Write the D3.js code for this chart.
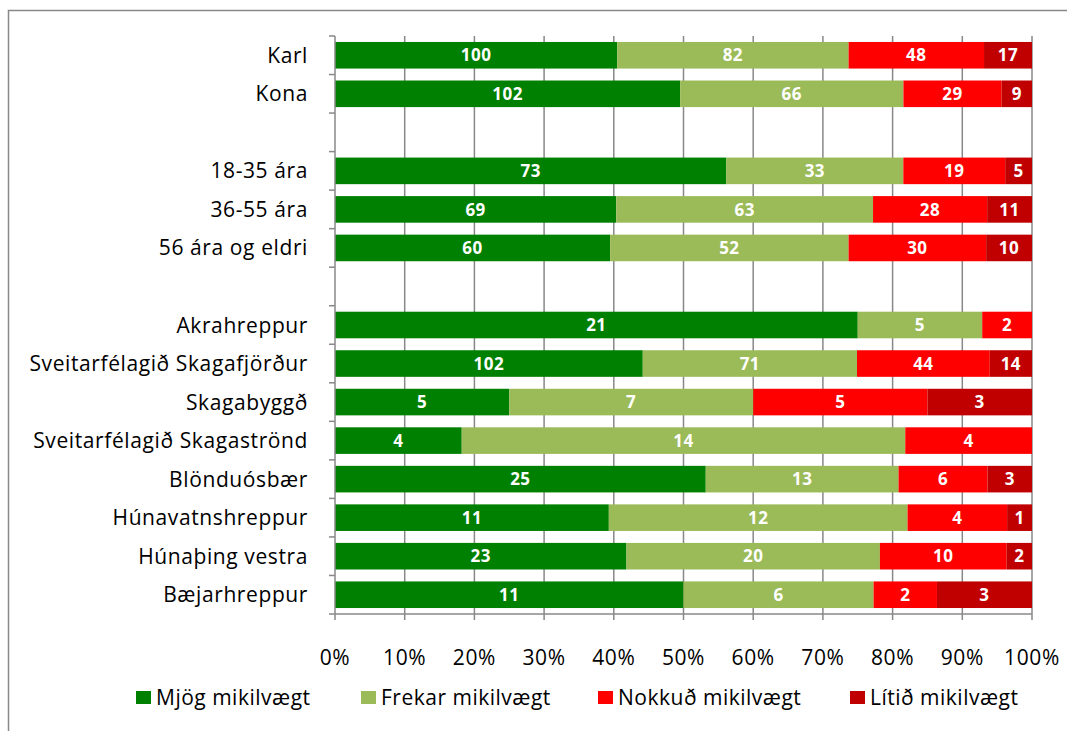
<!DOCTYPE html>
<html><head><meta charset="utf-8">
<script src="https://cdn.jsdelivr.net/npm/d3@7"></script>
<style>body{margin:0;background:#fff}svg{display:block}</style>
</head><body><div id="chart"></div>
<script>
const categories = ["Karl","Kona","","18-35 ára","36-55 ára","56 ára og eldri"," ","Akrahreppur","Sveitarfélagið Skagafjörður","Skagabyggð","Sveitarfélagið Skagaströnd","Blönduósbær","Húnavatnshreppur","Húnaþing vestra","Bæjarhreppur"];
const seriesNames = ["Mjög mikilvægt","Frekar mikilvægt","Nokkuð mikilvægt","Lítið mikilvægt"];
const mjog   = [100,102,null,73,69,60,null,21,102,5,4,25,11,23,11];
const frekar = [82,66,null,33,63,52,null,5,71,7,14,13,12,20,6];
const nokkud = [48,29,null,19,28,30,null,2,44,5,4,6,4,10,2];
const litid  = [17,9,null,5,11,10,null,0,14,3,0,3,1,2,3];
const xTicks = [0,0.1,0.2,0.3,0.4,0.5,0.6,0.7,0.8,0.9,1];
const colors = ["#008000","#9BBB59","#FF0000","#C00000"];

const W=1067,H=731;
const svg=d3.select("#chart").append("svg").attr("width",W).attr("height",H);
const font="'Open Sans', 'Noto Sans', sans-serif";

// outer frame
svg.append("rect").attr("x",8.5).attr("y",10.5).attr("width",1070).attr("height",740)
  .attr("fill","none").attr("stroke","#888").attr("stroke-width",1.5);

const x=d3.scaleLinear().domain([0,1]).range([335,1032]);
const y=d3.scaleBand().domain(categories).range([36,614]).paddingInner(0.31).paddingOuter(0.155);

// gridlines
svg.append("g").selectAll("line").data(xTicks.slice(1)).join("line")
  .attr("x1",d=>x(d)).attr("x2",d=>x(d)).attr("y1",36).attr("y2",614)
  .attr("stroke","#888").attr("stroke-width",1.5);

const series=[mjog,frekar,nokkud,litid];
const rows=categories.map((c,i)=>{
  if(mjog[i]==null) return null;
  const vals=series.map(s=>s[i]);
  const tot=d3.sum(vals);
  let acc=0;
  return vals.map((v,k)=>{const s={cat:c,k,v,x0:acc/tot,x1:(acc+v)/tot};acc+=v;return s;});
}).filter(r=>r);
const segs=rows.flat().filter(s=>s.v>0);

const g=svg.append("g");
g.selectAll("rect").data(segs).join("rect")
  .attr("x",d=>x(d.x0)).attr("width",d=>x(d.x1)-x(d.x0))
  .attr("y",d=>y(d.cat)).attr("height",y.bandwidth())
  .attr("fill",d=>colors[d.k]);
g.selectAll("text").data(segs).join("text")
  .attr("x",d=>(x(d.x0)+x(d.x1))/2).attr("y",d=>y(d.cat)+y.bandwidth()/2)
  .attr("dy","0.36em").attr("text-anchor","middle")
  .attr("fill","#fff").attr("font-weight","bold").attr("font-size",17).attr("letter-spacing",0.5).attr("font-family",font)
  .text(d=>d.v);

// y axis
const yAxis=svg.append("g").attr("transform","translate(335,0)");
yAxis.append("line").attr("x1",0).attr("x2",0).attr("y1",36).attr("y2",614).attr("stroke","#888").attr("stroke-width",1.5);
const bounds=d3.range(categories.length+1).map(i=>36+i*(578/categories.length));
yAxis.selectAll("line.t").data(bounds).join("line").attr("class","t")
  .attr("x1",-6).attr("x2",0).attr("y1",d=>d).attr("y2",d=>d).attr("stroke","#888").attr("stroke-width",1.5);
yAxis.selectAll("text").data(categories.filter(c=>c.trim())).join("text")
  .attr("x",-27).attr("y",d=>y(d)+y.bandwidth()/2).attr("dy","0.36em")
  .attr("text-anchor","end").attr("font-size",21).attr("letter-spacing",0.6).attr("font-family",font).attr("fill","#000")
  .text(d=>d);

// x axis
const xAxis=svg.append("g");
xAxis.append("line").attr("x1",335).attr("x2",1032).attr("y1",614).attr("y2",614).attr("stroke","#888").attr("stroke-width",1.5);
xAxis.selectAll("line.t").data(xTicks).join("line").attr("class","t")
  .attr("x1",d=>x(d)).attr("x2",d=>x(d)).attr("y1",614).attr("y2",620).attr("stroke","#888").attr("stroke-width",1.5);
xAxis.selectAll("text").data(xTicks).join("text")
  .attr("x",d=>x(d)).attr("y",657).attr("dy","0.36em").attr("text-anchor","middle")
  .attr("font-size",21).attr("letter-spacing",0.6).attr("font-family",font).attr("fill","#000")
  .text(d=>Math.round(d*100)+"%");

// legend
const legX=[136,361,598,850];
const leg=svg.append("g").selectAll("g").data(seriesNames).join("g")
  .attr("transform",(d,i)=>`translate(${legX[i]},697.5)`);
leg.append("rect").attr("x",0).attr("y",-6.5).attr("width",15).attr("height",13).attr("fill",(d,i)=>colors[i]);
leg.append("text").attr("x",20).attr("y",0).attr("dy","0.36em")
  .attr("font-size",21).attr("letter-spacing",0.5).attr("font-family",font).attr("fill","#000").text(d=>d);
</script></body></html>
